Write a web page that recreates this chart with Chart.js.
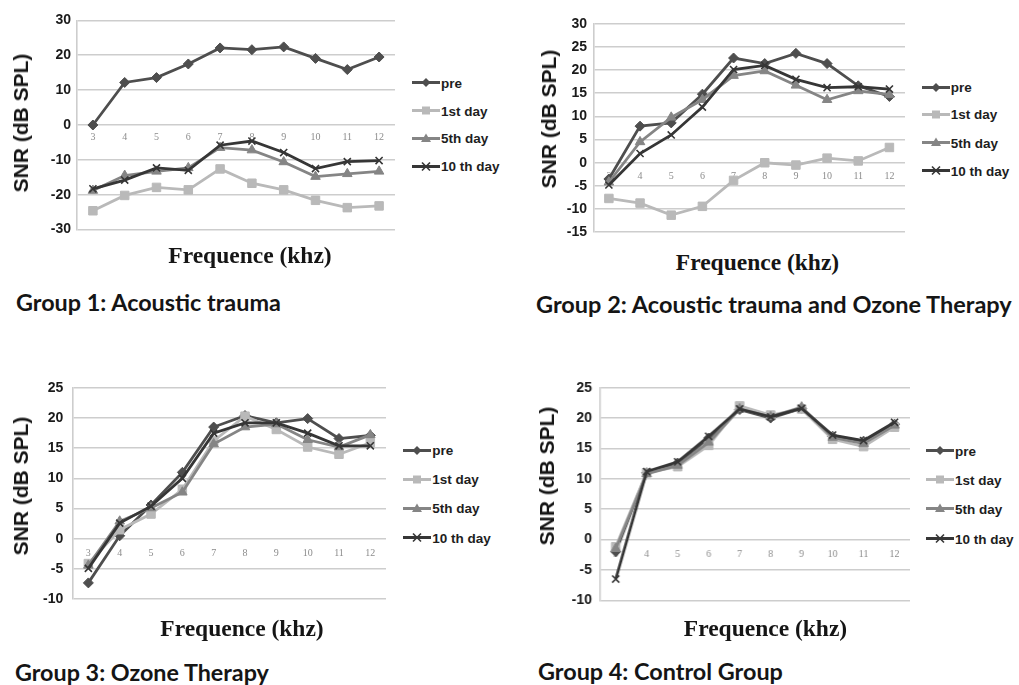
<!DOCTYPE html>
<html><head><meta charset="utf-8">
<script src="https://cdn.jsdelivr.net/npm/chart.js@4.4.1/dist/chart.umd.min.js"></script>
<style>
html,body{margin:0;padding:0;background:#fff;}
body{width:1019px;height:685px;position:relative;overflow:hidden;}
canvas{position:absolute;}
.t{position:absolute;white-space:nowrap;line-height:1;}
.ytitle{font:bold 21px "Liberation Sans",Arial,sans-serif;transform:translate(-50%,-50%) rotate(-90deg);color:#151515;}
.xtitle{font:bold 23.5px "Liberation Serif","Times New Roman",serif;transform:translate(-50%,-50%);color:#151515;}
.cap{font-family:Lato,"Open Sans",sans-serif;font-weight:700;font-size:19px;color:#151515;transform:translateY(-50%);}
.leg{font:bold 13.5px "Liberation Sans",Arial,sans-serif;color:#1e1e1e;transform:translateY(-50%);display:flex;align-items:center;}
.leg svg{display:block;margin-right:1px;}
</style></head><body>
<script>
// ---- data ----
const freqLabels = ['3','4','5','6','7','8','9','10','11','12'];
const seriesNames = ['pre','1st day','5th day','10 th day'];

const g1Pre   = [0, 12.2, 13.6, 17.5, 22.1, 21.6, 22.4, 19.1, 15.9, 19.5];
const g1Day1  = [-24.6, -20.2, -17.9, -18.6, -12.6, -16.7, -18.6, -21.6, -23.7, -23.2];
const g1Day5  = [-18.8, -14.5, -13.3, -12.3, -6.5, -7.2, -10.6, -14.8, -14.0, -13.3];
const g1Day10 = [-18.3, -15.8, -12.3, -13.0, -5.8, -4.6, -7.9, -12.5, -10.5, -10.2];

const g2Pre   = [-3.5, 7.9, 8.6, 14.8, 22.6, 21.4, 23.6, 21.4, 16.6, 14.3];
const g2Day1  = [-7.7, -8.7, -11.3, -9.4, -3.8, 0, -0.5, 1.0, 0.4, 3.3];
const g2Day5  = [-4.2, 4.5, 9.8, 13.6, 18.8, 19.8, 16.7, 13.6, 15.5, 14.7];
const g2Day10 = [-4.8, 2.0, 6.0, 12.0, 20.1, 21.0, 18.0, 16.2, 16.4, 15.9];

const g3Pre   = [-7.3, 0.5, 5.6, 11.0, 18.5, 20.4, 19.2, 19.9, 16.6, 17.1];
const g3Day1  = [-4.1, 1.5, 4.1, 8.2, 16.2, 20.3, 18.1, 15.2, 14.0, 15.9];
const g3Day5  = [-4.4, 2.9, 5.1, 7.7, 15.7, 18.5, 19.0, 16.4, 15.2, 17.2];
const g3Day10 = [-4.9, 2.6, 5.4, 10.0, 17.5, 19.2, 19.2, 17.5, 15.4, 15.4];

const g4Pre   = [-2.0, 11.0, 12.6, 16.7, 21.4, 20.0, 21.6, 17.0, 16.2, 19.0];
const g4Day1  = [-1.2, 11.0, 12.0, 15.5, 22.0, 20.5, 21.5, 16.5, 15.3, 18.5];
const g4Day5  = [-1.5, 10.8, 12.2, 16.0, 21.5, 20.2, 21.8, 16.8, 15.8, 18.8];
const g4Day10 = [-6.5, 11.2, 12.8, 17.0, 21.5, 20.2, 21.6, 17.2, 16.3, 19.3];

const g1Range = [-30, 30, 10];
const g2Range = [-15, 30, 5];
const g3Range = [-10, 25, 5];
const g4Range = [-10, 25, 5];

const yTitle = 'SNR (dB SPL)';
const xTitle = 'Frequence (khz)';
const captions = ['Group 1: Acoustic trauma', 'Group 2: Acoustic trauma and Ozone Therapy', 'Group 3: Ozone Therapy', 'Group 4: Control Group'];

// ---- styles ----
const styles = [
  {color:'#4e4e4e', point:'rectRot', r:5},
  {color:'#b9b9b9', point:'rect', r:6},
  {color:'#858585', point:'triangle', r:5.5},
  {color:'#363636', point:'crossRot', r:5}
];

const panels = [
  {series:[g1Pre,g1Day1,g1Day5,g1Day10], range:g1Range, x:0, y:5.5, w:402, h:238.5, yw:77, tp:6, xp:6,
   yt:[21, 122.5], xt:[250, 255], cap:[16, 303, 265], leg:[412, [82.7,110.7,138.3,166]]},
  {series:[g2Pre,g2Day1,g2Day5,g2Day10], range:g2Range, x:510, y:9, w:402.3, h:238.3, yw:83.3, tp:6.3, xp:8,
   yt:[548.5, 118.5], xt:[757.5, 262], cap:[536, 305, 476], leg:[921.7, [87,114.3,142.7,170.7]]},
  {series:[g3Pre,g3Day1,g3Day5,g3Day10], range:g3Range, x:0, y:370, w:393, h:247.3, yw:72.7, tp:9.4, xp:9,
   yt:[21, 486], xt:[242, 628], cap:[15, 673, 254], leg:[403.3, [450,479,508.3,537.7]]},
  {series:[g4Pre,g4Day1,g4Day5,g4Day10], range:g4Range, x:510, y:370.7, w:406.7, h:246.6, yw:90, tp:8.3, xp:9,
   yt:[547.3, 475.5], xt:[765.5, 628], cap:[538, 671.7, 245], leg:[926, [450.7,479.7,508.7,538.7]]}
];

function addText(cls, txt, left, top) {
  const d = document.createElement('div');
  d.className = 't ' + cls;
  d.textContent = txt;
  d.style.left = left + 'px';
  d.style.top = top + 'px';
  document.body.appendChild(d);
  return d;
}

function markerSVG(st) {
  const c = st.color, cx = 14, cy = 6;
  let m = '';
  if (st.point === 'rectRot') m = `<polygon points="${cx},${cy-4.5} ${cx+4.5},${cy} ${cx},${cy+4.5} ${cx-4.5},${cy}" fill="${c}"/>`;
  else if (st.point === 'rect') m = `<rect x="${cx-4}" y="${cy-4}" width="8" height="8" fill="${c}"/>`;
  else if (st.point === 'triangle') m = `<polygon points="${cx},${cy-5} ${cx+5},${cy+3.5} ${cx-5},${cy+3.5}" fill="${c}"/>`;
  else m = `<path d="M${cx-4} ${cy-4}L${cx+4} ${cy+4}M${cx+4} ${cy-4}L${cx-4} ${cy+4}" stroke="${c}" stroke-width="1.6"/>`;
  return `<svg width="28" height="12" viewBox="0 0 28 12"><line x1="0" y1="6" x2="28" y2="6" stroke="${c}" stroke-width="3"/>${m}</svg>`;
}

panels.forEach((p, pi) => {
  const c = document.createElement('canvas');
  c.width = p.w; c.height = p.h;
  c.style.left = p.x + 'px'; c.style.top = p.y + 'px';
  c.style.width = p.w + 'px'; c.style.height = p.h + 'px';
  document.body.appendChild(c);
  new Chart(c, {
    type: 'line',
    data: {
      labels: freqLabels,
      datasets: p.series.map((d, i) => ({
        label: seriesNames[i],
        data: d,
        borderColor: styles[i].color,
        backgroundColor: styles[i].color,
        pointBorderColor: styles[i].color,
        pointBackgroundColor: styles[i].color,
        borderWidth: 2.8,
        pointStyle: styles[i].point,
        pointRadius: styles[i].r,
        pointBorderWidth: styles[i].point === 'crossRot' ? 1.6 : 1,
        tension: 0,
        order: 4 - i
      }))
    },
    options: {
      responsive: false, animation: false, devicePixelRatio: 1,
      layout: {padding: {left: 0, right: 5, top: 10, bottom: 10}},
      plugins: {legend: {display: false}, tooltip: {enabled: false}},
      scales: {
        x: {
          type: 'category', position: {y: 0}, offset: true,
          grid: {display: false, drawTicks: false}, border: {display: false},
          ticks: {padding: p.xp, autoSkip: false, maxRotation: 0, color: '#8c8c8c',
                  font: {family: '"Liberation Serif", serif', size: 10}},
          afterFit: s => { s.height = 0; }
        },
        y: {
          min: p.range[0], max: p.range[1],
          ticks: {stepSize: p.range[2], padding: p.tp, color: '#1a1a1a',
                  font: {family: '"Liberation Sans", Arial, sans-serif', size: 14, weight: 'bold'}},
          grid: {color: '#cdcdcd', lineWidth: 1.6, drawTicks: false},
          border: {color: '#cdcdcd', width: 1.6},
          afterFit: s => { s.width = p.yw; }
        }
      }
    }
  });

  addText('ytitle', yTitle, p.yt[0], p.yt[1]);
  addText('xtitle', xTitle, p.xt[0], p.xt[1]);
  const cap = addText('cap', captions[pi], p.cap[0], p.cap[1]);
  const w = cap.getBoundingClientRect().width;
  cap.style.fontSize = (19 * p.cap[2] / w).toFixed(2) + 'px';

  seriesNames.forEach((n, i) => {
    const d = document.createElement('div');
    d.className = 't leg';
    d.style.left = p.leg[0] + 'px';
    d.style.top = p.leg[1][i] + 'px';
    d.innerHTML = markerSVG(styles[i]) + '<span></span>';
    d.querySelector('span').textContent = n;
    document.body.appendChild(d);
  });
});
</script>
</body></html>
